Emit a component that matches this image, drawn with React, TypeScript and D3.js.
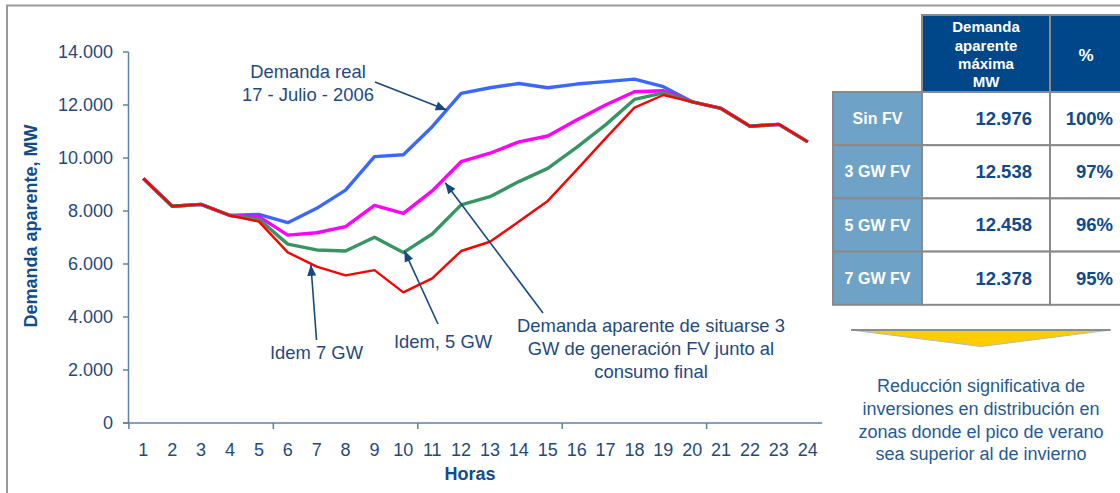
import React from "react";
import * as d3 from "d3";

// ---------- data ----------
const hours = ["1","2","3","4","5","6","7","8","9","10","11","12","13","14","15","16","17","18","19","20","21","22","23","24"];
const demandaReal = [9230, 8180, 8250, 7830, 7870, 7560, 8100, 8790, 10050, 10120, 11180, 12440, 12650, 12810, 12650, 12790, 12880, 12976, 12690, 12120, 11870, 11200, 11270, 10610];
const fv3GW = [9230, 8180, 8250, 7830, 7790, 7090, 7180, 7410, 8210, 7910, 8760, 9860, 10180, 10610, 10830, 11430, 12000, 12500, 12538, 12120, 11870, 11200, 11270, 10610];
const fv5GW = [9230, 8180, 8250, 7830, 7690, 6750, 6530, 6490, 7010, 6430, 7130, 8230, 8540, 9110, 9610, 10400, 11250, 12210, 12458, 12120, 11870, 11200, 11270, 10610];
const fv7GW = [9230, 8180, 8250, 7830, 7600, 6440, 5900, 5570, 5770, 4930, 5460, 6490, 6840, 7600, 8380, 9550, 10740, 11900, 12378, 12120, 11870, 11200, 11270, 10610];
const yTicks = [0, 2000, 4000, 6000, 8000, 10000, 12000, 14000];
const xTickEvery = 5;

const tableHeader = ["Demanda", "aparente", "máxima", "MW"];
const tablePctHeader = "%";
const tableRows = ["Sin FV", "3 GW FV", "5 GW FV", "7 GW FV"];
const tableMax = ["12.976", "12.538", "12.458", "12.378"];
const tablePct = ["100%", "97%", "96%", "95%"];
const conclusion = ["Reducción significativa de", "inversiones en distribución en", "zonas donde el pico de verano", "sea superior al de invierno"];

// ---------- styles ----------
const FONT = "'Liberation Sans', Arial, sans-serif";
const TXT = "#1f4a7e";
const DARK = "#0f4c8c";
const AXIS = "#5b82ab";
const ARROW = "#17497f";
const ANN = 18.4;

const locale = d3.formatLocale({ decimal: ",", thousands: ".", grouping: [3], currency: ["", "€"] });
const fmt = locale.format(",");

export default function App() {
  const x = d3.scaleBand<string>().domain(hours).range([128.9, 822.2]).paddingInner(0).paddingOuter(0);
  const y = d3.scaleLinear().domain([0, 14000]).range([423, 52]);
  const cx = (h: string) => (x(h) as number) + x.bandwidth() / 2;

  const line = d3.line<number>().x((_, i) => cx(hours[i])).y((d) => y(d));

  const series = [
    { name: "real", values: demandaReal, color: "#3a68ff", width: 3.4 },
    { name: "3GW", values: fv3GW, color: "#ff00ff", width: 3.4 },
    { name: "5GW", values: fv5GW, color: "#379463", width: 3.4 },
    { name: "7GW", values: fv7GW, color: "#ff0000", width: 2.4 },
  ];

  // point along a series at fractional hour index
  const along = (vals: number[], fi: number) => {
    const i0 = Math.floor(fi);
    const t = fi - i0;
    const i1 = Math.min(i0 + 1, vals.length - 1);
    const xv = cx(hours[i0]) + t * (cx(hours[i1]) - cx(hours[i0]));
    const yv = y(vals[i0] + t * (vals[i1] - vals[i0]));
    return [xv, yv];
  };

  const arrows = [
    { tip: along(demandaReal, 10.5), off: [0, 0], tail: [375, 82] },
    { tip: along(fv7GW, 5.8), off: [0, 1], tail: [316.5, 340] },
    { tip: along(fv5GW, 9), off: [1, -2], tail: [438, 324] },
    { tip: along(fv3GW, 10.45), off: [0, 5], tail: [543, 313] },
  ];

  const arrowHead = (tx: number, ty: number, fx: number, fy: number) => {
    const a = Math.atan2(ty - fy, tx - fx);
    const L = 11, w = 4.5;
    const bx = tx - L * Math.cos(a), by = ty - L * Math.sin(a);
    const p1 = [bx + w * Math.sin(a), by - w * Math.cos(a)];
    const p2 = [bx - w * Math.sin(a), by + w * Math.cos(a)];
    return `${tx},${ty} ${p1[0]},${p1[1]} ${p2[0]},${p2[1]}`;
  };

  const xTickIdx = d3.range(0, hours.length, xTickEvery);

  // table geometry
  const tX0 = 833, tX1 = 922, tX2 = 1050, tX3 = 1126;
  const tY0 = 15, tY1 = 92;
  const rowH = 53.2;

  return (
    <svg width={1120} height={493} style={{ position: "absolute", left: 0, top: 0, background: "#fff" }} fontFamily={FONT}>
      <rect x={0} y={0} width={1120} height={493} fill="#fff" />
      {/* frame */}
      <path d="M7,493 V5.5 H1120" fill="none" stroke="#9a9a9a" strokeWidth={2} />

      {/* y axis */}
      <line x1={128.5} x2={128.5} y1={y(14000)} y2={y(0) + 0.5} stroke={AXIS} strokeWidth={1.5} />
      {yTicks.map((t) => (
        <g key={t}>
          <line x1={123} x2={128.5} y1={y(t)} y2={y(t)} stroke={AXIS} strokeWidth={1.5} />
          <text x={113} y={y(t)} dy="0.35em" textAnchor="end" fontSize={18} fill={TXT}>{fmt(t)}</text>
        </g>
      ))}
      {/* x axis */}
      <line x1={123} x2={822.2} y1={y(0)} y2={y(0)} stroke={AXIS} strokeWidth={1.5} />
      {xTickIdx.map((i) => (
        <line key={i} x1={x(hours[i]) as number} x2={x(hours[i]) as number} y1={y(0)} y2={y(0) + 6} stroke={AXIS} strokeWidth={1.5} />
      ))}
      {hours.map((h) => (
        <text key={h} x={cx(h)} y={450} dy="0.35em" textAnchor="middle" fontSize={18} fill={TXT}>{h}</text>
      ))}
      <text x={470} y={474} dy="0.35em" textAnchor="middle" fontSize={18} fontWeight="bold" fill={DARK}>Horas</text>
      <text transform="translate(31,226) rotate(-90)" dy="0.35em" textAnchor="middle" fontSize={18} fontWeight="bold" fill={DARK}>Demanda aparente, MW</text>

      {/* lines */}
      {series.map((s) => (
        <path key={s.name} d={line(s.values) || ""} fill="none" stroke={s.color} strokeWidth={s.width} strokeLinejoin="round" />
      ))}

      {/* arrows */}
      {arrows.map((a, i) => {
        const tx = a.tip[0] + a.off[0], ty = a.tip[1] + a.off[1];
        return (
          <g key={i}>
            <line x1={a.tail[0]} y1={a.tail[1]} x2={tx} y2={ty} stroke={ARROW} strokeWidth={1.6} />
            <polygon points={arrowHead(tx, ty, a.tail[0], a.tail[1])} fill={ARROW} />
          </g>
        );
      })}

      {/* annotations */}
      <text x={308} y={72} dy="0.35em" textAnchor="middle" fontSize={ANN} fill={TXT}>Demanda real</text>
      <text x={308} y={95} dy="0.35em" textAnchor="middle" fontSize={ANN} fill={TXT}>17 - Julio - 2006</text>
      <text x={316.5} y={353} dy="0.35em" textAnchor="middle" fontSize={ANN} fill={TXT}>Idem 7 GW</text>
      <text x={443} y={342} dy="0.35em" textAnchor="middle" fontSize={ANN} fill={TXT}>Idem, 5 GW</text>
      <text x={651} y={326} dy="0.35em" textAnchor="middle" fontSize={ANN} fill={TXT}>Demanda aparente de situarse 3</text>
      <text x={651} y={349} dy="0.35em" textAnchor="middle" fontSize={ANN} fill={TXT}>GW de generación FV junto al</text>
      <text x={651} y={372} dy="0.35em" textAnchor="middle" fontSize={ANN} fill={TXT}>consumo final</text>

      {/* table */}
      <rect x={tX1} y={tY0} width={tX2 - tX1} height={tY1 - tY0} fill="#00478a" stroke="#8a8a8a" strokeWidth={2} />
      <rect x={tX2} y={tY0} width={tX3 - tX2} height={tY1 - tY0} fill="#00478a" stroke="#8a8a8a" strokeWidth={2} />
      {tableHeader.map((t, i) => (
        <text key={t} x={(tX1 + tX2) / 2} y={27 + i * 18.3} dy="0.35em" textAnchor="middle" fontSize={15} fontWeight="bold" fill="#fff">{t}</text>
      ))}
      <text x={(tX2 + 1122) / 2} y={55.5} dy="0.35em" textAnchor="middle" fontSize={17} fontWeight="bold" fill="#fff">{tablePctHeader}</text>
      {tableRows.map((r, i) => {
        const ry = tY1 + i * rowH;
        return (
          <g key={r}>
            <rect x={tX0} y={ry} width={tX1 - tX0} height={rowH} fill="#6ea2c6" stroke="#8a8a8a" strokeWidth={2} />
            <rect x={tX1} y={ry} width={tX2 - tX1} height={rowH} fill="#fff" stroke="#8a8a8a" strokeWidth={2} />
            <rect x={tX2} y={ry} width={tX3 - tX2} height={rowH} fill="#fff" stroke="#8a8a8a" strokeWidth={2} />
            <text x={(tX0 + tX1) / 2} y={ry + rowH / 2} dy="0.35em" textAnchor="middle" fontSize={16} fontWeight="bold" fill="#fff">{r}</text>
            <text x={1032} y={ry + rowH / 2} dy="0.35em" textAnchor="end" fontSize={18.5} fontWeight="bold" fill="#0f4a8a">{tableMax[i]}</text>
            <text x={1113} y={ry + rowH / 2} dy="0.35em" textAnchor="end" fontSize={18.5} fontWeight="bold" fill="#0f4a8a">{tablePct[i]}</text>
          </g>
        );
      })}

      {/* yellow arrow triangle */}
      <polygon points="851,330 1110.5,330 981,346.5" fill="#ffcc00" stroke="#b8b8b8" strokeWidth={1} />
      <line x1={851} x2={1110.5} y1={330} y2={330} stroke="#8c8c8c" strokeWidth={2} />

      {conclusion.map((t, i) => (
        <text key={t} x={981} y={386 + i * 22.6} dy="0.35em" textAnchor="middle" fontSize={18} fill="#1f5a98">{t}</text>
      ))}
    </svg>
  );
}
